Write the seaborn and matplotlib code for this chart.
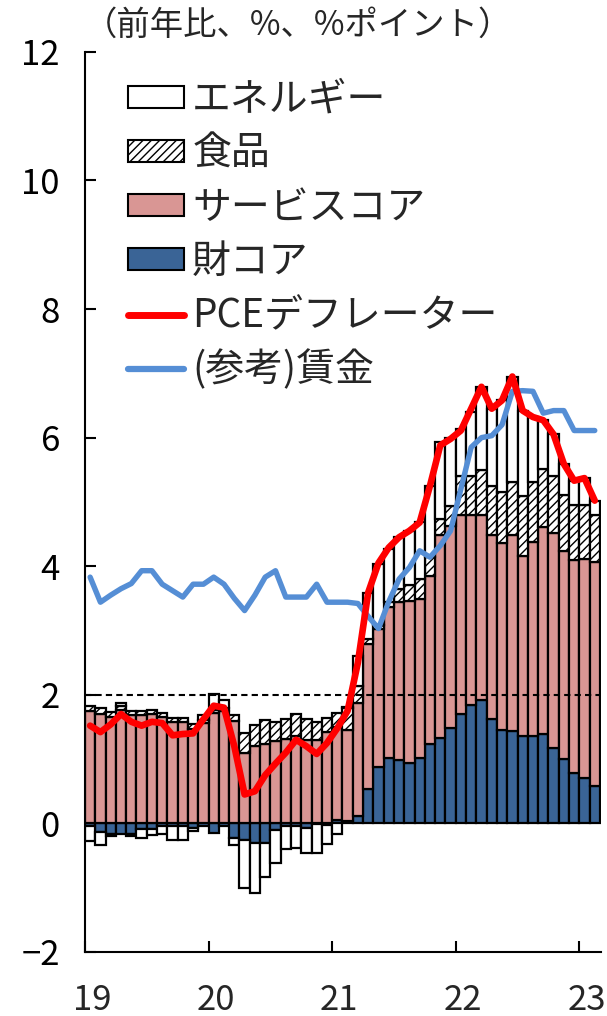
import numpy as np
import pandas as pd
import seaborn as sns
import matplotlib.pyplot as plt
from matplotlib.patches import Patch
from matplotlib.lines import Line2D

# monthly, Jan 2019 - Feb 2023
months = pd.date_range('2019-01-01', '2023-02-01', freq='MS')

# contributions (%pt)
goods = [-0.04, -0.13, -0.16, -0.16, -0.17, -0.08, -0.08, -0.04, -0.04, -0.04, -0.07, -0.04,
         -0.15, -0.04, -0.22, -0.26, -0.30, -0.30, -0.10, -0.04, -0.04, -0.07, -0.01, -0.02,
         0.05, 0.03, 0.11, 0.53, 0.87, 1.02, 0.99, 0.94, 1.01, 1.23, 1.33, 1.49,
         1.70, 1.84, 1.92, 1.62, 1.45, 1.44, 1.36, 1.36, 1.39, 1.18, 1.00, 0.79,
         0.70, 0.58]
services = [1.75, 1.70, 1.65, 1.76, 1.68, 1.68, 1.70, 1.66, 1.58, 1.58, 1.47, 1.56,
            1.72, 1.75, 1.59, 1.10, 1.20, 1.23, 1.28, 1.31, 1.36, 1.30, 1.30, 1.42,
            1.45, 1.43, 1.76, 2.26, 2.15, 2.34, 2.45, 2.52, 2.48, 2.62, 3.15, 3.14,
            3.09, 2.96, 2.88, 2.87, 2.91, 3.04, 2.80, 3.01, 3.22, 3.34, 3.23, 3.30,
            3.41, 3.48]
food = [0.07, 0.09, 0.08, 0.06, 0.07, 0.07, 0.06, 0.06, 0.06, 0.06, 0.07, 0.05,
        0.05, 0.05, 0.09, 0.31, 0.33, 0.38, 0.29, 0.32, 0.34, 0.32, 0.28, 0.22,
        0.22, 0.33, 0.27, 0.08, 0.06, 0.08, 0.21, 0.24, 0.31, 0.30, 0.25, 0.31,
        0.62, 0.61, 0.70, 0.75, 0.80, 0.83, 0.93, 0.94, 0.90, 0.89, 0.88, 0.86,
        0.84, 0.73]
energy = [-0.24, -0.21, -0.03, 0.05, -0.02, -0.15, -0.10, -0.13, -0.22, -0.22, -0.05, 0.08,
          0.25, 0.12, -0.12, -0.74, -0.78, -0.53, -0.52, -0.36, -0.34, -0.39, -0.45, -0.30,
          -0.16, 0.02, 0.47, 0.72, 0.95, 0.83, 0.80, 0.85, 0.88, 1.10, 1.20, 1.06,
          0.73, 0.99, 1.29, 1.21, 1.42, 1.64, 1.33, 1.01, 0.76, 0.64, 0.48, 0.38,
          0.42, 0.23]

# PCE deflator (% y/y)
pce = [1.52, 1.42, 1.54, 1.70, 1.58, 1.52, 1.58, 1.56, 1.37, 1.39, 1.40, 1.62,
       1.83, 1.80, 1.20, 0.45, 0.50, 0.75, 0.93, 1.10, 1.30, 1.20, 1.08, 1.25,
       1.48, 1.75, 2.50, 3.59, 4.05, 4.29, 4.45, 4.55, 4.68, 5.25, 5.88, 5.98,
       6.11, 6.45, 6.79, 6.45, 6.58, 6.95, 6.42, 6.32, 6.27, 6.05, 5.59, 5.33,
       5.37, 5.02]
# wages (reference)
wage = [3.83, 3.44, 3.55, 3.65, 3.73, 3.93, 3.93, 3.72, 3.62, 3.52, 3.72, 3.72,
        3.83, 3.72, 3.50, 3.31, 3.55, 3.83, 3.93, 3.52, 3.52, 3.52, 3.72, 3.44,
        3.44, 3.44, 3.42, 3.22, 3.03, 3.45, 3.80, 3.98, 4.24, 4.14, 4.32, 4.55,
        5.20, 5.85, 6.00, 6.03, 6.20, 6.72, 6.73, 6.72, 6.38, 6.42, 6.42, 6.11,
        6.11, 6.11]

year_labels = ['19', '20', '21', '22', '23']

c_goods = '#3A6496'
c_serv = '#D99694'
c_red = '#FF0000'
c_wage = '#558ED5'

sns.set_theme(style='ticks')
plt.rcParams['font.family'] = ['Noto Sans CJK JP', 'DejaVu Sans']
plt.rcParams['hatch.linewidth'] = 1.0
plt.rcParams['axes.unicode_minus'] = True

df = pd.DataFrame({'x': np.arange(len(months)), 'pce': pce, 'wage': wage})
n = len(df)

fig = plt.figure(figsize=(6.07, 10.16), dpi=100)
ax = fig.add_axes([0.140, 0.063, 0.850, 0.886])

pos = np.zeros(n)
neg = np.zeros(n)
for vals, fc, hatch in [(goods, c_goods, None), (services, c_serv, None),
                        (food, 'white', '////'), (energy, 'white', None)]:
    v = np.array(vals)
    bottom = np.where(v >= 0, pos, neg)
    ax.bar(df['x'], v, bottom=bottom, width=1.0, color=fc, edgecolor='black',
           linewidth=1.6, hatch=hatch, zorder=2)
    pos += np.where(v >= 0, v, 0)
    neg += np.where(v < 0, v, 0)

ax.axhline(2, color='black', lw=1.5, ls=(0, (3, 2)), zorder=3)

sns.lineplot(data=df, x='x', y='wage', ax=ax, color=c_wage, lw=3.9, zorder=4,
             solid_joinstyle='round', solid_capstyle='round')
sns.lineplot(data=df, x='x', y='pce', ax=ax, color=c_red, lw=4.8, zorder=5,
             solid_joinstyle='round', solid_capstyle='round')

ax.set_xlim(-0.5, 49.6)
ax.set_ylim(-2, 12)
yt = list(range(-2, 13, 2))
ax.set_yticks(yt, [str(t).replace('-', '\u2212') for t in yt])
bounds = [-0.5 + 12 * k for k in range(len(year_labels))]
ax.set_xticks(bounds, [''] * len(bounds))
ax.set_xticks([b + 0.7 for b in bounds], year_labels, minor=True)
ax.tick_params(axis='both', which='major', direction='in', length=8, width=1.5,
               labelsize=25, colors='black')
ax.tick_params(axis='y', pad=18)
ax.tick_params(axis='x', which='minor', length=0, labelsize=25, pad=22)
ax.set_xlabel('')
ax.set_ylabel('')
for s in ['left', 'bottom']:
    ax.spines[s].set_linewidth(1.5)
    ax.spines[s].set_color('black')
sns.despine(ax=ax)

fig.text(0.138, 0.975, '（前年比、%、%ポイント）', fontsize=24, va='center', ha='left')

handles = [
    Patch(facecolor='white', edgecolor='black', lw=1.5),
    Patch(facecolor='white', edgecolor='black', lw=1.5, hatch='////'),
    Patch(facecolor=c_serv, edgecolor='black', lw=1.5),
    Patch(facecolor=c_goods, edgecolor='black', lw=1.5),
    Line2D([], [], color=c_red, lw=5, solid_capstyle='round'),
    Line2D([], [], color=c_wage, lw=4.5, solid_capstyle='round'),
]
labels = ['エネルギー', '食品', 'サービスコア', '財コア', 'PCEデフレーター', '(参考)賃金']
ax.legend(handles, labels, loc='upper left', bbox_to_anchor=(128 / 607, 1 - 80 / 1016),
          bbox_transform=fig.transFigure, frameon=False, fontsize=28,
          handlelength=1.45, handleheight=0.48, handletextpad=0.2, labelspacing=0.36,
          borderpad=0, borderaxespad=0)

fig.savefig('out.png', dpi=100)
